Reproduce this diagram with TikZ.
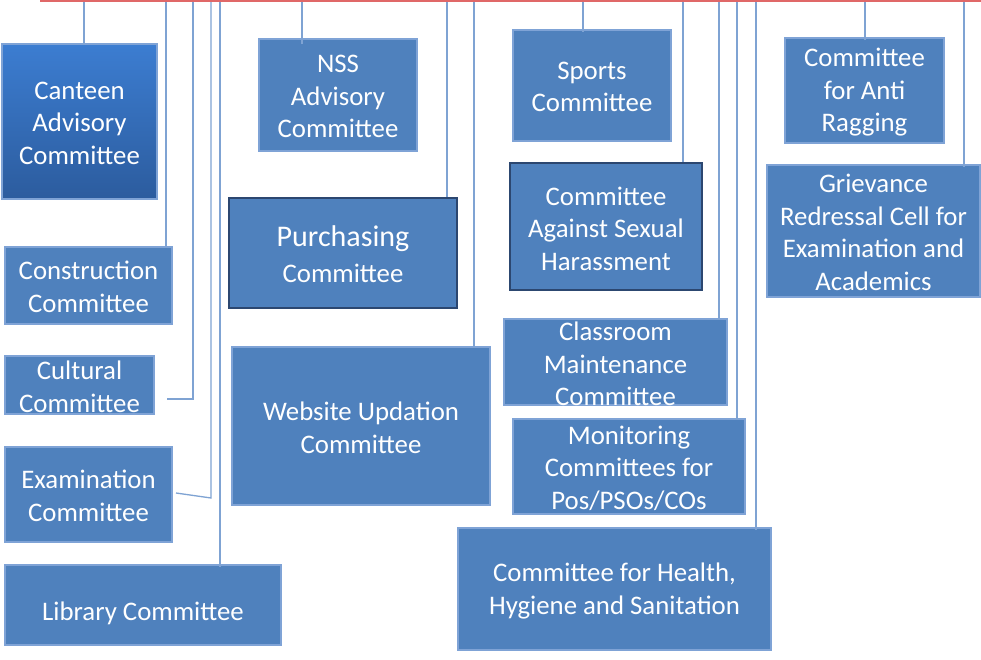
\documentclass[tikz,border=0pt]{standalone}
\usepackage{fontspec}
\setmainfont{Carlito}
\definecolor{boxblue}{HTML}{4F81BD}
\definecolor{boxline}{HTML}{7FA3D6}
\definecolor{darkline}{HTML}{2C4770}
\definecolor{connblue}{HTML}{7FA3D3}
\definecolor{redline}{HTML}{E06868}
\definecolor{gradtop}{HTML}{3C7DD1}
\definecolor{gradbot}{HTML}{2C5C9E}
\begin{document}
\begin{tikzpicture}[x=1pt,y=-1pt,
  box/.style={draw=boxline, line width=1.2pt, fill=boxblue, inner sep=0pt, rectangle},
  darkbox/.style={box, draw=darkline, line width=1.8pt},
  txt/.style={text=white, align=center, font=\fontsize{26.8}{32.5}\selectfont, inner sep=0pt},
  conn/.style={draw=connblue, line width=1.3pt}]
\useasboundingbox (0,0) rectangle (981,660);
\fill[white] (0,0) rectangle (981,660);

% boxes
\node[box, draw=boxline, top color=gradtop, bottom color=gradbot, minimum width=155pt, minimum height=155pt] (canteen) at (79.5,121.5) {};
\node[txt] at (79.5,123) {Canteen\\Advisory\\Committee};
\node[box, minimum width=167pt, minimum height=77pt] (constr) at (88.5,285.5) {};
\node[txt] at (88.5,287) {Construction\\Committee};
\node[box, minimum width=149pt, minimum height=58pt] (cult) at (79.5,385) {};
\node[txt] at (79.5,387) {Cultural\\Committee};
\node[box, minimum width=167pt, minimum height=95pt] (exam) at (88.5,494.5) {};
\node[txt] at (88.5,496) {Examination\\Committee};
\node[box, minimum width=276pt, minimum height=80pt] (lib) at (143,605) {};
\node[txt] at (143,613) {Library Committee};

\node[box, minimum width=158pt, minimum height=112pt] (nss) at (338,95) {};
\node[txt] at (338,96.5) {NSS\\Advisory\\Committee};
\node[darkbox, minimum width=228pt, minimum height=110pt] (purch) at (343,253) {};
\node[txt] at (343,254) {{\fontsize{30}{34}\selectfont Purchasing}\\[3pt]Committee};
\node[box, minimum width=258pt, minimum height=158pt] (web) at (361,426) {};
\node[txt] at (361,428) {Website Updation\\Committee};

\node[box, minimum width=158pt, minimum height=111pt] (sports) at (592,85.5) {};
\node[txt] at (592,87) {Sports\\Committee};
\node[darkbox, minimum width=192pt, minimum height=127pt] (cash) at (606,226.5) {};
\node[txt] at (606,228.5) {Committee\\Against Sexual\\Harassment};
\node[box, minimum width=223pt, minimum height=86pt] (class) at (615.5,362) {};
\node[txt] at (615.5,364) {Classroom\\Maintenance\\Committee};
\node[box, minimum width=232pt, minimum height=95pt] (monit) at (629,466.5) {};
\node[txt] at (629,468) {Monitoring\\Committees for\\Pos/PSOs/COs};
\node[box, minimum width=313pt, minimum height=122pt] (health) at (614.5,589) {};
\node[txt] at (614.5,591) {Committee for Health,\\Hygiene and Sanitation};

\node[box, minimum width=159pt, minimum height=105pt] (anti) at (864.5,90.5) {};
\node[txt] at (864.5,92.5) {Committee\\for Anti\\Ragging};
\node[box, minimum width=213pt, minimum height=132pt] (griev) at (873.5,231) {};
\node[txt] at (873.5,232.5) {Grievance\\Redressal Cell for\\Examination and\\Academics};

% connector start points on the top line
\coordinate (tCanteen) at (84,2);
\coordinate (tConstr) at (166,2);
\coordinate (tCult) at (193,2);
\coordinate (tExam) at (211,2);
\coordinate (tLib) at (220,2);
\coordinate (tNss) at (302,2);
\coordinate (tPurch) at (447,2);
\coordinate (tWeb) at (474,2);
\coordinate (tSports) at (583,2);
\coordinate (tCash) at (683,2);
\coordinate (tClass) at (719,2);
\coordinate (tMonit) at (737,2);
\coordinate (tHealth) at (756,2);
\coordinate (tAnti) at (865,2);
\coordinate (tGriev) at (964,2);
\coordinate (cultEnd) at (167,399);
\coordinate (examBend) at (211,498);
\coordinate (examEnd) at (176,493);

\draw[conn] (tCanteen) -- ([yshift=-1pt]tCanteen |- canteen.north);
\draw[conn] (tConstr) -- (tConstr |- constr.north);
\draw[conn] (tCult) |- (cultEnd);
\draw[conn] (tExam) -- (examBend) -- (examEnd);
\draw[conn] (tLib) -- ([yshift=-3pt]tLib |- lib.north);
\draw[conn] (tNss) -- ([yshift=-6pt]tNss |- nss.north);
\draw[conn] (tPurch) -- (tPurch |- purch.north);
\draw[conn] (tWeb) -- ([yshift=-2pt]tWeb |- web.north);
\draw[conn] (tSports) -- ([yshift=-3pt]tSports |- sports.north);
\draw[conn] (tCash) -- (tCash |- cash.north);
\draw[conn] (tClass) -- ([yshift=-2pt]tClass |- class.north);
\draw[conn] (tMonit) -- ([yshift=-2pt]tMonit |- monit.north);
\draw[conn] (tHealth) -- ([yshift=-3pt]tHealth |- health.north);
\draw[conn] (tAnti) -- ([yshift=-3pt]tAnti |- anti.north);
\draw[conn] (tGriev) -- ([yshift=-3pt]tGriev |- griev.north);

% top line
\coordinate (redL) at (40,1.2);
\coordinate (redR) at (981,1.2);
\draw[redline, line width=2.2pt] (redL) -- (redR);
\end{tikzpicture}
\end{document}
